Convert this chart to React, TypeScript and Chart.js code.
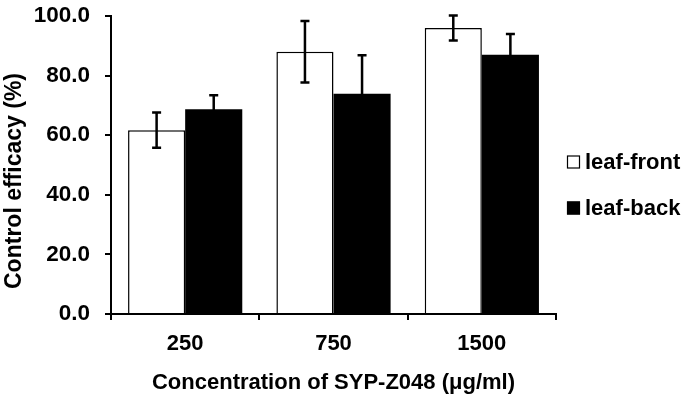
import React, { useEffect, useRef } from "react";
import { Chart, registerables } from "chart.js";

Chart.register(...registerables);

const categories = ["250", "750", "1500"];
const seriesNames = ["leaf-front", "leaf-back"];
const frontValues = [61.7, 88.0, 96.0];
const frontErrors = [5.9, 10.3, 4.2];
const backValues = [68.7, 73.9, 87.0];
const backErrors = [4.7, 12.9, 7.0];
const yTicks = [0, 20, 40, 60, 80, 100];
const yTitle = "Control efficacy (%)";
const xTitle = "Concentration of SYP-Z048 (μg/ml)";

const FONT = '"Liberation Sans", Arial, sans-serif';

const errorBarPlugin = {
  id: "errorBars",
  afterDatasetsDraw(chart: any) {
    const ctx = chart.ctx;
    const yScale = chart.scales.y;
    chart.data.datasets.forEach((ds: any, di: number) => {
      const meta = chart.getDatasetMeta(di);
      const errs = ds.errors as number[];
      meta.data.forEach((el: any, i: number) => {
        const v = ds.data[i];
        const e = errs[i];
        const yTop = yScale.getPixelForValue(v + e);
        const yBot = yScale.getPixelForValue(v - e);
        const x = el.x;
        ctx.save();
        ctx.strokeStyle = "#000";
        ctx.lineWidth = 2.5;
        ctx.beginPath();
        ctx.moveTo(x, yTop);
        ctx.lineTo(x, yBot);
        ctx.moveTo(x - 4.5, yTop);
        ctx.lineTo(x + 4.5, yTop);
        ctx.moveTo(x - 4.5, yBot);
        ctx.lineTo(x + 4.5, yBot);
        ctx.stroke();
        ctx.restore();
      });
    });
  },
};

const legendAndTitlePlugin = {
  id: "customLegend",
  afterDraw(chart: any) {
    const ctx = chart.ctx;
    const area = chart.chartArea;
    const mid = (area.top + area.bottom) / 2;
    ctx.save();
    ctx.font = `bold 22px ${FONT}`;
    ctx.textBaseline = "middle";
    ctx.textAlign = "left";
    chart.data.datasets.forEach((ds: any, i: number) => {
      const cy = mid - 3 + i * 46;
      const bx = area.right + 11;
      ctx.fillStyle = ds.backgroundColor;
      ctx.fillRect(bx, cy - 6.5, 13, 13);
      ctx.strokeStyle = "#000";
      ctx.lineWidth = 1.2;
      ctx.strokeRect(bx + 0.5, cy - 6, 12, 12);
      ctx.fillStyle = "#000";
      ctx.fillText(ds.label, bx + 18, cy + 1);
    });
    // y axis title
    ctx.font = `bold 23px ${FONT}`;
    ctx.translate(15, mid + 16);
    ctx.rotate(-Math.PI / 2);
    ctx.textAlign = "center";
    ctx.fillText(yTitle, 0, 0);
    ctx.restore();
  },
};

export default function App() {
  const ref = useRef<HTMLCanvasElement>(null);
  useEffect(() => {
    const canvas = ref.current;
    if (!canvas) return;
    const chart = new Chart(canvas, {
      type: "bar",
      data: {
        labels: categories,
        datasets: [
          {
            label: seriesNames[0],
            data: frontValues,
            errors: frontErrors,
            backgroundColor: "#ffffff",
            borderColor: "#000000",
            borderWidth: 1.5,
            categoryPercentage: 0.77,
            barPercentage: 1.0,
          } as any,
          {
            label: seriesNames[1],
            data: backValues,
            errors: backErrors,
            backgroundColor: "#000000",
            borderColor: "#000000",
            borderWidth: 0,
            categoryPercentage: 0.77,
            barPercentage: 1.0,
          } as any,
        ],
      },
      options: {
        responsive: false,
        animation: false,
        layout: { padding: { left: 0, right: 130, top: 16, bottom: 0 } },
        plugins: {
          legend: { display: false },
          tooltip: { enabled: false },
        },
        scales: {
          x: {
            offset: true,
            grid: {
              offset: true,
              drawOnChartArea: false,
              drawTicks: true,
              tickLength: 6,
              color: "#000",
              lineWidth: 2,
            },
            border: { display: true, color: "#000", width: 2 },
            ticks: {
              color: "#000",
              padding: 11,
              font: { family: FONT, size: 22, weight: "bold" },
            },
            title: {
              display: true,
              text: xTitle,
              color: "#000",
              padding: { top: 0, bottom: 6 },
              font: { family: FONT, size: 22, weight: "bold" },
            },
            afterFit: (s: any) => {
              s.height = 88;
              s.paddingLeft = 0;
              s.paddingRight = 0;
            },
          },
          y: {
            min: 0,
            max: 100,
            afterBuildTicks: (s: any) => {
              s.ticks = yTicks.map((v) => ({ value: v }));
            },
            grid: {
              drawOnChartArea: false,
              drawTicks: true,
              tickLength: 6,
              color: "#000",
              lineWidth: 2,
            },
            border: { display: true, color: "#000", width: 2 },
            ticks: {
              color: "#000",
              padding: 15,
              font: { family: FONT, size: 22.5, weight: "bold" },
              callback: (v: any) => Number(v).toFixed(1),
            },
            afterFit: (s: any) => {
              s.width = 111;
              s.paddingTop = 0;
              s.paddingBottom = 0;
            },
          },
        },
      },
      plugins: [errorBarPlugin, legendAndTitlePlugin],
    });
    return () => chart.destroy();
  }, []);
  return (
    <div style={{ position: "fixed", left: 0, top: 0, width: 686, height: 402, background: "#fff" }}>
      <canvas ref={ref} width={686} height={402} />
    </div>
  );
}
